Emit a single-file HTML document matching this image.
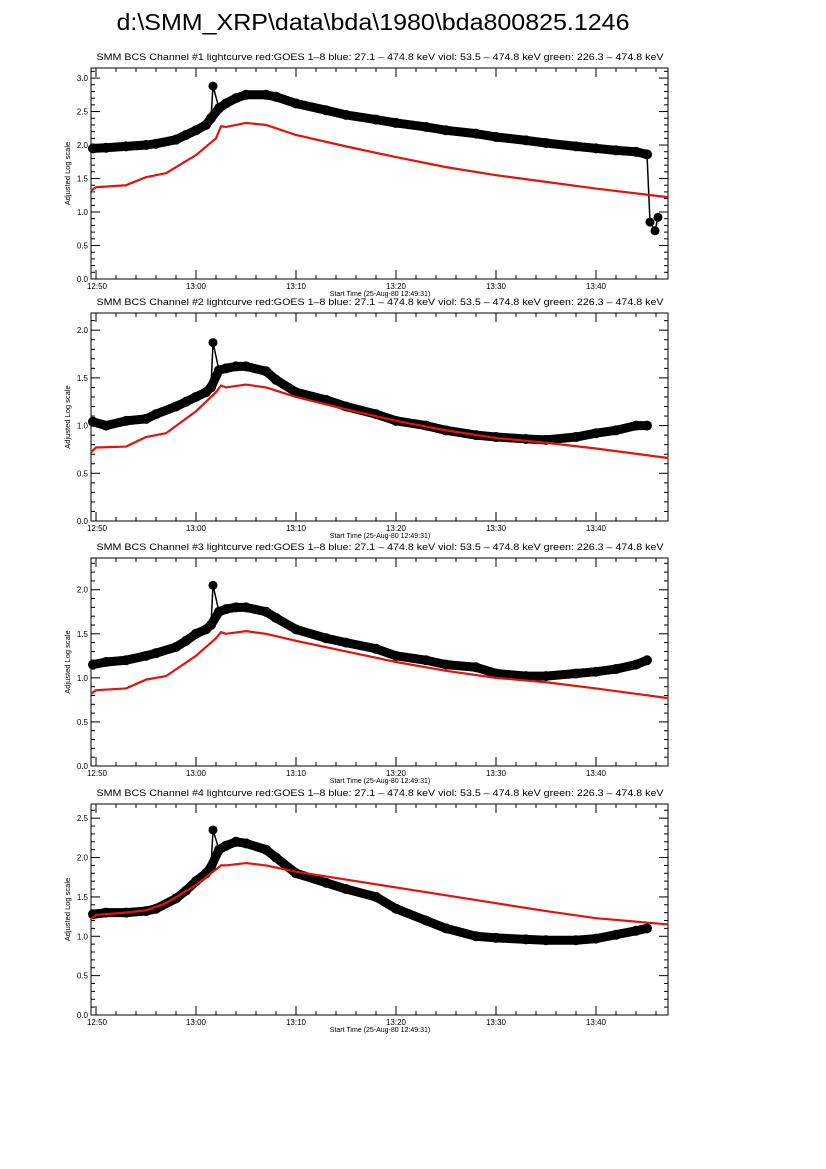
<!DOCTYPE html>
<html><head><meta charset="utf-8"><style>
html,body{margin:0;padding:0;background:#fff;}
svg{display:block;font-family:"Liberation Sans",sans-serif;}
</style></head><body>
<svg id="c" width="826" height="1169" viewBox="0 0 826 1169">
<text x="373" y="30" font-size="23" text-anchor="middle" textLength="513" lengthAdjust="spacingAndGlyphs">d:\SMM_XRP\data\bda\1980\bda800825.1246</text>
</svg>
<script>
// times in minutes after 12:50
const tickLabels = ["12:50","13:00","13:10","13:20","13:30","13:40"];
const tickMinutes = [0,10,20,30,40];
const yMaxes = [3.15, 2.18, 2.36, 2.68];
const yTickStep = [0.5,0.5,0.5,0.5];

const blackT = [-0.3,1,3,5,6,8,9,10,11,11.5,12.3,13,14,15,17,18,20,23,25,28,30,33,35,38,40,43,45,48,50,52,54,55.1];
const black1 = [1.95,1.96,1.98,2.0,2.02,2.08,2.15,2.22,2.3,2.4,2.55,2.62,2.7,2.75,2.75,2.72,2.62,2.52,2.45,2.38,2.33,2.27,2.22,2.17,2.12,2.07,2.03,1.98,1.95,1.92,1.9,1.86];
const black2 = [1.04,1.0,1.05,1.07,1.12,1.2,1.25,1.3,1.35,1.4,1.58,1.6,1.62,1.62,1.57,1.48,1.35,1.27,1.2,1.12,1.05,1.0,0.95,0.9,0.88,0.86,0.85,0.88,0.92,0.95,1.0,1.0];
const black3 = [1.15,1.18,1.2,1.25,1.28,1.35,1.42,1.5,1.55,1.6,1.75,1.78,1.8,1.8,1.75,1.68,1.55,1.45,1.4,1.33,1.25,1.2,1.15,1.12,1.05,1.02,1.02,1.05,1.07,1.1,1.15,1.2];
const black4 = [1.28,1.3,1.3,1.32,1.35,1.48,1.58,1.7,1.8,1.88,2.1,2.15,2.2,2.18,2.1,2.0,1.8,1.68,1.6,1.5,1.35,1.2,1.1,1.0,0.98,0.96,0.95,0.95,0.97,1.02,1.07,1.1];

const redT = [-0.5,0,3,5,7,10,12,12.5,13,15,17,20,25,30,35,40,45,50,57.2];
const red1 = [1.32,1.37,1.4,1.52,1.58,1.85,2.1,2.28,2.27,2.33,2.3,2.15,1.98,1.82,1.67,1.55,1.45,1.35,1.22];
const red2 = [0.72,0.77,0.78,0.88,0.92,1.15,1.35,1.42,1.4,1.43,1.4,1.3,1.17,1.05,0.95,0.87,0.82,0.76,0.66];
const red3 = [0.82,0.86,0.88,0.98,1.02,1.25,1.45,1.52,1.5,1.53,1.5,1.42,1.3,1.18,1.08,1.0,0.95,0.88,0.77];
const red4 = [1.22,1.27,1.3,1.33,1.42,1.65,1.85,1.9,1.9,1.93,1.9,1.82,1.72,1.62,1.52,1.42,1.32,1.23,1.15];

const spikeT = [11.5,11.7,12.3];
const spike1 = [2.4,2.88,2.55];
const spike2 = [1.4,1.87,1.58];
const spike3 = [1.6,2.05,1.75];
const spike4 = [1.88,2.35,2.1];

const dropT = [55.1,55.4,55.9,56.2];
const drop1 = [1.86,0.85,0.72,0.92];

const panels = [
 {top:68,bottom:279,black:black1,red:red1,spike:spike1,drop:drop1},
 {top:313,bottom:521,black:black2,red:red2,spike:spike2},
 {top:558,bottom:766,black:black3,red:red3,spike:spike3},
 {top:804,bottom:1015,black:black4,red:red4,spike:spike4}
];
const L=91,R=668;
const xs = t => 96 + t*10;
const NS="http://www.w3.org/2000/svg";
const svg=document.getElementById('c');
function mk(tag,attrs,parent){const e=document.createElementNS(NS,tag);for(const k in attrs)e.setAttribute(k,attrs[k]);(parent||svg).appendChild(e);return e;}

panels.forEach((p,i)=>{
  const ymax=yMaxes[i];
  const ys = v => p.bottom - v/ymax*(p.bottom-p.top);
  const g=mk('g',{});
  
  
  const ttl=mk('text',{x:380,y:p.top-8,'font-size':9.5,'text-anchor':'middle',textLength:567,lengthAdjust:'spacingAndGlyphs'},g);
  ttl.textContent='SMM BCS Channel #'+(i+1)+' lightcurve  red:GOES 1\u20138  blue: 27.1 \u2013 474.8 keV  viol: 53.5 \u2013 474.8 keV  green: 226.3 \u2013 474.8 keV';
  
  
  // axes box
  const box=mk('rect',{x:L,y:p.top,width:R-L,height:p.bottom-p.top,fill:'none',stroke:'#000','stroke-width':1},g);
  
  
  // x ticks
  for(let m=0;m<=56;m+=2){
    const x=xs(m), major=(m%10===0), len=major?9:4;
    mk('line',{x1:x,x2:x,y1:p.bottom,y2:p.bottom-len,stroke:'#000'},g);
    mk('line',{x1:x,x2:x,y1:p.top,y2:p.top+len,stroke:'#000'},g);
  }
  tickLabels.forEach((lab,k)=>{
    const tx=mk('text',{x:xs(k*10)+(k===0?1:0),y:p.bottom+10,'font-size':8,'text-anchor':'middle'},g);
    tx.textContent=lab;
    
    
  });
  const xt=mk('text',{x:380,y:p.bottom+17,'font-size':7,'text-anchor':'middle'},g);
  xt.textContent='Start Time (25-Aug-80 12:49:31)';
  
  
  // y ticks
  for(let v=0;v<=ymax+1e-6;v+=0.1){
    const y=ys(v); const major=Math.abs(v/yTickStep[i]-Math.round(v/yTickStep[i]))<1e-6; const len=major?9:4;
    mk('line',{x1:L,x2:L+len,y1:y,y2:y,stroke:'#000'},g);
    mk('line',{x1:R,x2:R-len,y1:y,y2:y,stroke:'#000'},g);
    if(major){
      const ty=mk('text',{x:L-3,y:y+3,'font-size':8,'text-anchor':'end'},g);
      ty.textContent=v.toFixed(1);
      
      
    }
  }
  const cy=(p.top+p.bottom)/2;
  const yl=mk('text',{x:70,y:cy,'font-size':7.5,'text-anchor':'middle',transform:'rotate(-90 70 '+cy+')'},g);
  yl.textContent='Adjusted Log scale';
  
  
  // black series
  const bp=blackT.map((t,k)=>xs(t)+','+ys(p.black[k])).join(' ');
  const bl=mk('polyline',{points:bp,fill:'none',stroke:'#000','stroke-width':9,'stroke-linejoin':'round','stroke-linecap':'round'},g);
  
  
  blackT.forEach((t,k)=>{const c=mk('circle',{cx:xs(t),cy:ys(p.black[k]),r:5,fill:'#000'},g);
    
    });
  // spike
  const sp=spikeT.map((t,k)=>xs(t)+','+ys(p.spike[k])).join(' ');
  const sl=mk('polyline',{points:sp,fill:'none',stroke:'#000','stroke-width':1.5},g);
  
  
  const sc=mk('circle',{cx:xs(spikeT[1]),cy:ys(p.spike[1]),r:4.5,fill:'#000'},g);
  
  
  if(p.drop){
    const dp=dropT.map((t,k)=>xs(t)+','+ys(p.drop[k])).join(' ');
    const dl=mk('polyline',{points:dp,fill:'none',stroke:'#000','stroke-width':1.5},g);
    
    
    dropT.slice(1).forEach((t,k)=>{const c=mk('circle',{cx:xs(t),cy:ys(p.drop[k+1]),r:4.5,fill:'#000'},g);
      
      });
  }
  // red
  const rp=redT.map((t,k)=>Math.max(L,xs(t))+','+ys(p.red[k])).join(' ');
  const rl=mk('polyline',{points:rp,fill:'none',stroke:'#e0140e','stroke-width':2.2,'stroke-linejoin':'round'},g);
  
  
});
</script>
</body></html>
